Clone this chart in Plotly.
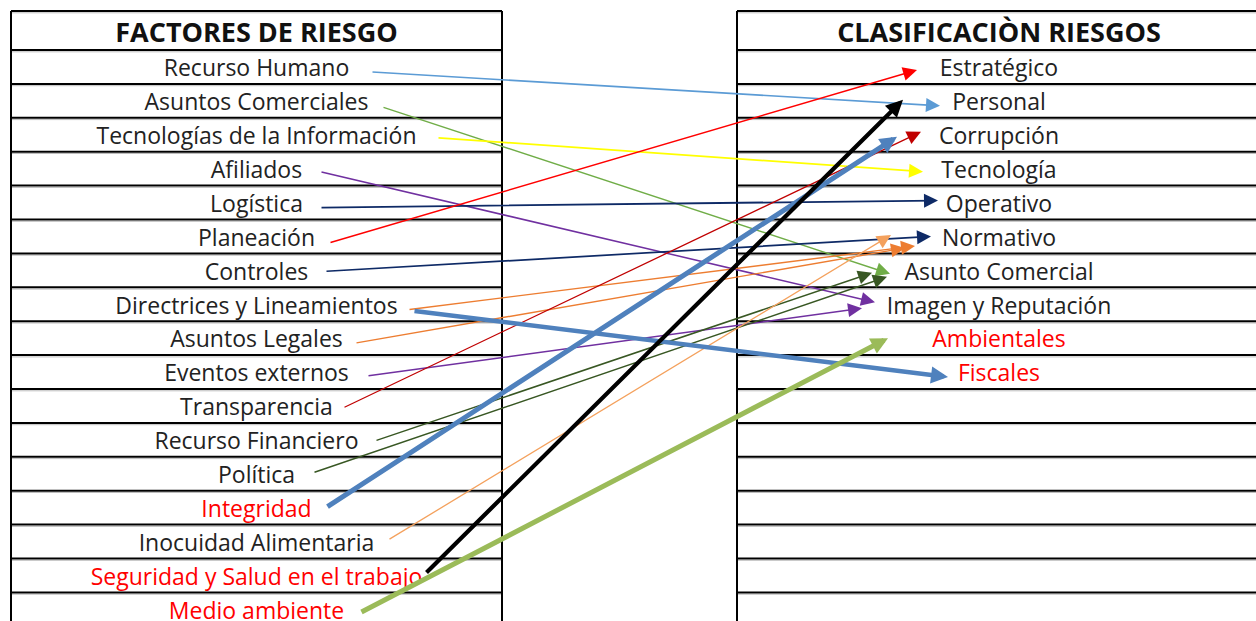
import plotly.graph_objects as go

# ---------------- DATA ----------------
factores = [
    "Recurso Humano", "Asuntos Comerciales", "Tecnologías de la Información",
    "Afiliados", "Logística", "Planeación", "Controles",
    "Directrices y Lineamientos", "Asuntos Legales", "Eventos externos",
    "Transparencia", "Recurso Financiero", "Política", "Integridad",
    "Inocuidad Alimentaria", "Seguridad y Salud en el trabajo", "Medio ambiente",
]
factores_rojo = ["Integridad", "Seguridad y Salud en el trabajo", "Medio ambiente"]

clasificacion = [
    "Estratégico", "Personal", "Corrupción", "Tecnología", "Operativo",
    "Normativo", "Asunto Comercial", "Imagen y Reputación", "Ambientales", "Fiscales",
]
clasificacion_rojo = ["Ambientales", "Fiscales"]

titulo_izq = "FACTORES DE RIESGO"
titulo_der = "CLASIFICACIÒN RIESGOS"

enlace_origen = [
    "Recurso Humano", "Asuntos Comerciales", "Tecnologías de la Información",
    "Afiliados", "Logística", "Planeación", "Controles",
    "Directrices y Lineamientos", "Asuntos Legales", "Eventos externos",
    "Transparencia", "Recurso Financiero", "Política", "Inocuidad Alimentaria",
    "Integridad", "Directrices y Lineamientos", "Medio ambiente",
    "Seguridad y Salud en el trabajo",
]
enlace_destino = [
    "Personal", "Asunto Comercial", "Tecnología",
    "Imagen y Reputación", "Operativo", "Estratégico", "Normativo",
    "Normativo", "Normativo", "Imagen y Reputación",
    "Corrupción", "Asunto Comercial", "Asunto Comercial", "Normativo",
    "Corrupción", "Fiscales", "Ambientales",
    "Personal",
]

# ---------------- STYLE / LAYOUT ----------------
W, H = 1256, 621
TOP, HEAD_BOT, ROW_H = 11, 50, 33.9
L_X0, L_X1 = 11, 502
R_X0, R_X1 = 737, 1262
L_CX, R_CX = (L_X0 + L_X1) / 2, 999
N_ROWS = len(factores)

enlace_color = ["#5B9BD5", "#70AD47", "#FFFF00", "#7030A0", "#0E2A66", "#FF0000",
                "#0E2A66", "#ED7D31", "#ED7D31", "#7030A0", "#C00000", "#385723",
                "#385723", "#F4A15D", "#4F81BD", "#4F81BD", "#9BBB59", "#000000"]
enlace_ancho = [1.6, 1.4, 1.8, 1.5, 1.8, 1.5, 1.7, 1.4, 1.4, 1.5, 1.3, 1.5,
                1.5, 1.3, 5, 4.5, 5, 4.2]
inicio_x = [371, 382, 437, 320, 320, 329, 325, 408, 355, 367, 343, 375, 313, 388,
            326, 413, 360, 425]
inicio_dy = [5, 6, 3, 3, 5, 6.5, 1, 5.5, 5, 4, 2, 1, -1, -1.5, 0, 6.5, 3.5, -1.5]
fin_x = [940, 890, 923, 875, 938, 917, 931, 915, 905, 862, 921, 872, 887, 891,
         897, 948, 888, 903]
fin_dy = [5, 3.5, 3, -2, -2, 3, 0, 9.5, 11.5, 4, -3, 2.5, 6.5, -1.5, 2, 5, 0, -1]


def centro_fila(i):
    return HEAD_BOT + (i + 0.5) * ROW_H


fig = go.Figure()

# grid lines of both tables (black rule with a faint grey shadow beneath)
shapes = []
line_style = dict(color="#000000", width=2)
shadow_style = dict(color="#BDBDBD", width=1)
ys = [TOP, HEAD_BOT] + [HEAD_BOT + (k + 1) * ROW_H for k in range(N_ROWS - 1)]
for y in ys:
    for x0, x1 in ((L_X0, L_X1), (R_X0, R_X1)):
        shapes.append(dict(type="line", xref="x", yref="y", x0=x0, x1=x1, y0=y + 1.8, y1=y + 1.8,
                           line=shadow_style, layer="below"))
        shapes.append(dict(type="line", xref="x", yref="y", x0=x0, x1=x1, y0=y, y1=y,
                           line=line_style, layer="below"))
for x in (L_X0, L_X1, R_X0, R_X1):
    shapes.append(dict(type="line", xref="x", yref="y", x0=x, x1=x, y0=TOP, y1=H + 20,
                       line=line_style, layer="below"))

FONT = "Open Sans"
TXT = 3.5
TEXT_COLOR = "#222222"
# left labels
fig.add_trace(go.Scatter(
    x=[L_CX] * len(factores),
    y=[centro_fila(i) + TXT for i in range(len(factores))],
    text=factores, mode="text", textposition="middle center",
    textfont=dict(family=FONT, size=23,
                  color=["#FF0000" if f in factores_rojo else TEXT_COLOR for f in factores]),
    hoverinfo="skip", showlegend=False))
# right labels
fig.add_trace(go.Scatter(
    x=[R_CX] * len(clasificacion),
    y=[centro_fila(i) + TXT for i in range(len(clasificacion))],
    text=clasificacion, mode="text", textposition="middle center",
    textfont=dict(family=FONT, size=23,
                  color=["#FF0000" if c in clasificacion_rojo else TEXT_COLOR for c in clasificacion]),
    hoverinfo="skip", showlegend=False))
# headers
fig.add_trace(go.Scatter(
    x=[L_CX, R_CX], y=[(TOP + HEAD_BOT) / 2 + 5] * 2,
    text=["<b>" + titulo_izq + "</b>", "<b>" + titulo_der + "</b>"],
    mode="text", textposition="middle center",
    textfont=dict(family=FONT, size=27, color="#111111"),
    hoverinfo="skip", showlegend=False))

# arrows
annotations = []
for k, (o, d) in enumerate(zip(enlace_origen, enlace_destino)):
    y0 = centro_fila(factores.index(o)) + inicio_dy[k]
    y1 = centro_fila(clasificacion.index(d)) + fin_dy[k]
    w = enlace_ancho[k]
    head_len = 14 if w < 3 else 17
    annotations.append(dict(
        x=fin_x[k], y=y1, ax=inicio_x[k], ay=y0,
        xref="x", yref="y", axref="x", ayref="y",
        text="", showarrow=True, arrowhead=2, arrowwidth=w,
        arrowsize=head_len / 5 / w, arrowcolor=enlace_color[k], standoff=0))

fig.update_layout(
    width=W, height=H, autosize=False,
    margin=dict(l=0, r=0, t=0, b=0),
    paper_bgcolor="white", plot_bgcolor="white",
    xaxis=dict(range=[0, W], visible=False, fixedrange=True),
    yaxis=dict(range=[H, 0], visible=False, fixedrange=True),
    shapes=shapes, annotations=annotations,
)

fig.write_html("out.html", config={"displayModeBar": False, "staticPlot": True},
               post_script="document.body.style.margin='0';document.body.style.overflow='hidden';")
